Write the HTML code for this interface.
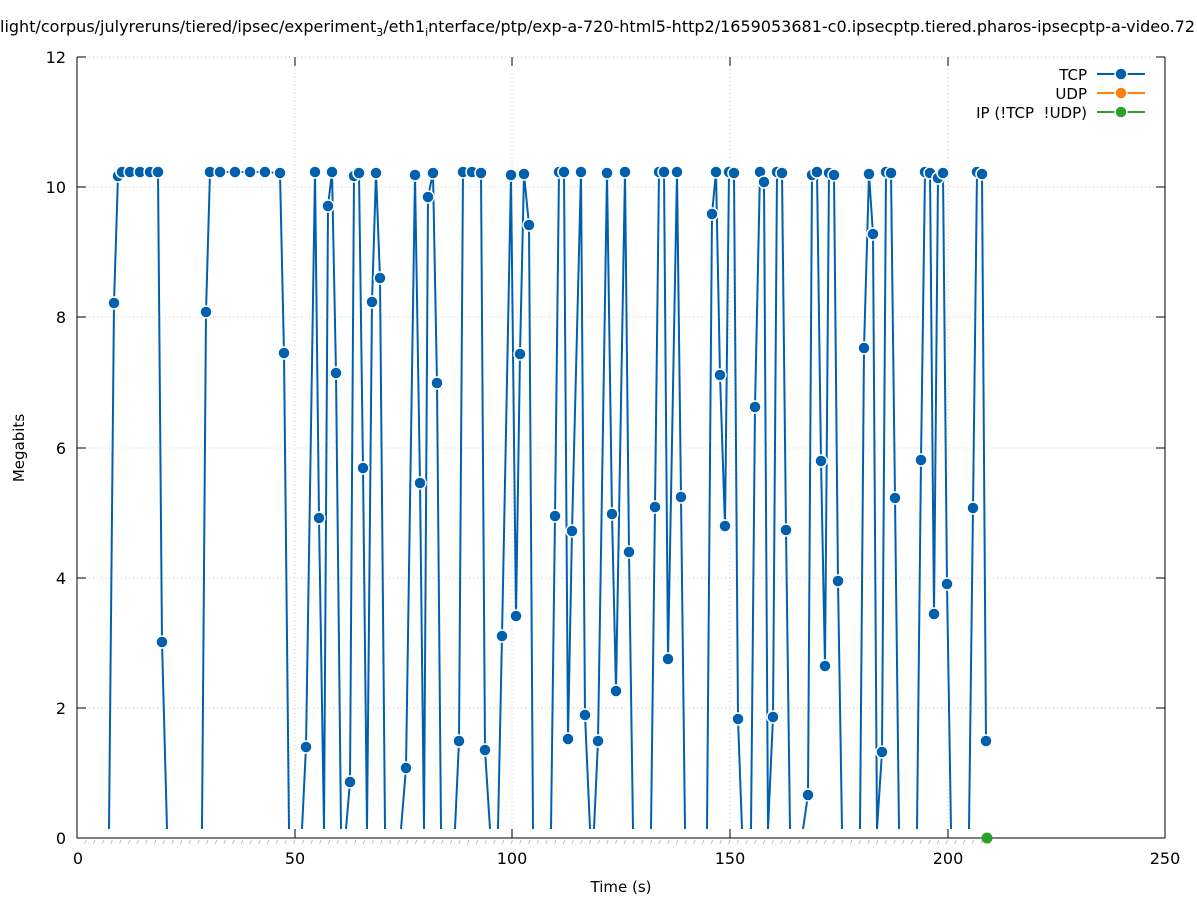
<!DOCTYPE html>
<html><head><meta charset="utf-8"><style>
body{margin:0;background:#fff}
svg{display:block;font-family:"DejaVu Sans","Liberation Sans",sans-serif}
</style></head><body>
<svg id="s" width="1197" height="900" viewBox="0 0 1197 900" xmlns="http://www.w3.org/2000/svg">
<rect width="1197" height="900" fill="#fff"/>
<text x="0" y="32" font-size="16" fill="#000">light/corpus/julyreruns/tiered/ipsec/experiment<tspan font-size="11" dy="4">3</tspan><tspan dy="-4">/eth1</tspan><tspan font-size="11" dy="4">i</tspan><tspan dy="-4">nterface/ptp/exp-a-720-html5-http2/1659053681-c0.ipsecptp.tiered.pharos-ipsecptp-a-video.72</tspan></text>
<g stroke="#c8c8c8" stroke-width="1" stroke-dasharray="1,3">
<line x1="77" y1="57" x2="1165" y2="57"/>
<line x1="77" y1="187" x2="1165" y2="187"/>
<line x1="77" y1="317" x2="1165" y2="317"/>
<line x1="77" y1="448" x2="1165" y2="448"/>
<line x1="77" y1="578" x2="1165" y2="578"/>
<line x1="77" y1="708" x2="1165" y2="708"/>
<line x1="295" y1="57" x2="295" y2="838"/>
<line x1="512" y1="57" x2="512" y2="838"/>
<line x1="730" y1="57" x2="730" y2="838"/>
<line x1="948" y1="57" x2="948" y2="838"/>
</g>
<g stroke="#000" stroke-width="1" fill="none">
<path d="M77,57V838H1165V57"/>
<path d="M77,57h9M77,187h9M77,317h9M77,448h9M77,578h9M77,708h9M1165,187h-9M1165,317h-9M1165,448h-9M1165,578h-9M1165,708h-9M1165,57h-9"/>
<path d="M295,838v-9M512,838v-9M730,838v-9M948,838v-9M295,57v9M512,57v9M730,57v9M948,57v9"/>
</g>
<g font-size="16" fill="#000" text-anchor="end">
<text x="66" y="63">12</text><text x="66" y="193">10</text><text x="66" y="323">8</text><text x="66" y="454">6</text><text x="66" y="584">4</text><text x="66" y="714">2</text><text x="66" y="844">0</text>
</g>
<g font-size="16" fill="#000" text-anchor="middle">
<text x="78" y="864">0</text><text x="295" y="864">50</text><text x="512" y="864">100</text><text x="730" y="864">150</text><text x="948" y="864">200</text><text x="1165" y="864">250</text>
<text x="621" y="892" font-size="15">Time (s)</text>
<text transform="translate(24,448) rotate(-90)" font-size="15">Megabits</text>
</g>
<g id="green"></g>
<g id="tcp"></g>
<circle cx="987" cy="838" r="5.5" fill="#2ca02c"/>
<g font-size="15" fill="#000" text-anchor="end">
<text x="1087" y="80">TCP</text><text x="1087" y="99">UDP</text><text x="1087" y="118">IP (!TCP &#160;!UDP)</text>
</g>
<g stroke-width="2">
<line x1="1097" y1="74" x2="1145" y2="74" stroke="#0060ad"/><circle cx="1121" cy="74" r="6" fill="#0060ad" stroke="#fff" stroke-width="1.5"/>
<line x1="1097" y1="93" x2="1145" y2="93" stroke="#ff7f0e"/><circle cx="1121" cy="93" r="6" fill="#ff7f0e" stroke="#fff" stroke-width="1.5"/>
<line x1="1097" y1="112" x2="1145" y2="112" stroke="#2ca02c"/><circle cx="1121" cy="112" r="6" fill="#2ca02c" stroke="#fff" stroke-width="1.5"/>
</g>
</svg>
<script>
var segs=[
[[109,829],[114,303],[118,176],[122,172],[130,172],[140,172],[150,172],[158,172],[162,642],[167,829]],
[[202,829],[206,312],[210,172],[220,172],[235,172],[250,172],[265,172],[280,173],[284,353],[289,829]],
[[302,829],[306,747],[315,172],[319,518],[324,829],[328,206],[332,172],[336,373],[341,829]],
[[346,829],[350,782],[354,176],[359,173],[363,468],[367,829],[372,302],[376,173],[380,278],[385,829]],
[[401,829],[406,768],[415,175],[420,483],[424,829],[428,197],[433,173],[437,383],[441,829]],
[[455,829],[459,741],[463,172],[472,172],[481,173],[485,750],[490,829]],
[[498,829],[502,636],[511,175],[516,616],[520,354],[524,174],[529,225],[533,829]],
[[551,829],[555,516],[559,172],[564,172],[568,739],[572,531],[581,172],[585,715],[590,829]],
[[594,829],[598,741],[607,173],[612,514],[616,691],[625,172],[629,552],[633,829]],
[[651,829],[655,507],[659,172],[664,172],[668,659],[677,172],[681,497],[685,829]],
[[707,829],[712,214],[716,172],[720,375],[725,526],[729,172],[734,173],[738,719],[742,829]],
[[751,829],[755,407],[760,172],[764,182],[768,829],[773,717],[777,172],[782,173],[786,530],[790,829]],
[[803,829],[808,795],[812,175],[817,172],[821,461],[825,666],[829,173],[834,175],[838,581],[842,829]],
[[860,829],[864,348],[869,174],[873,234],[877,829],[882,752],[886,172],[891,173],[895,498],[899,829]],
[[917,829],[921,460],[925,172],[930,173],[934,614],[938,178],[943,173],[947,584],[951,829]],
[[969,829],[973,508],[977,172],[982,174],[986,741]]];
var NS="http://www.w3.org/2000/svg",g=document.getElementById("tcp"),gg=document.getElementById("green");
segs.forEach(function(s){
 var p=document.createElementNS(NS,"polyline");
 p.setAttribute("points",s.map(function(q){return q.join(",")}).join(" "));
 p.setAttribute("fill","none");p.setAttribute("stroke","#fff");p.setAttribute("stroke-width","4");g.appendChild(p);
 var p2=p.cloneNode();p2.setAttribute("stroke","#0060ad");p2.setAttribute("stroke-width","2");g.appendChild(p2);
});
segs.forEach(function(s){s.forEach(function(q){if(q[1]>=829)return;
 var c=document.createElementNS(NS,"circle");c.setAttribute("cx",q[0]);c.setAttribute("cy",q[1]);c.setAttribute("r","6");
 c.setAttribute("fill","#0060ad");c.setAttribute("stroke","#fff");c.setAttribute("stroke-width","1.5");g.appendChild(c);});});
for(var x=81;x<987;x+=8.7){var c=document.createElementNS(NS,"circle");c.setAttribute("cx",x.toFixed(1));c.setAttribute("cy","840");c.setAttribute("r","5");c.setAttribute("fill","none");c.setAttribute("stroke","#9fd49f");c.setAttribute("stroke-width","1");c.setAttribute("stroke-dasharray","4,27");gg.appendChild(c);}
</script>
</body></html>
